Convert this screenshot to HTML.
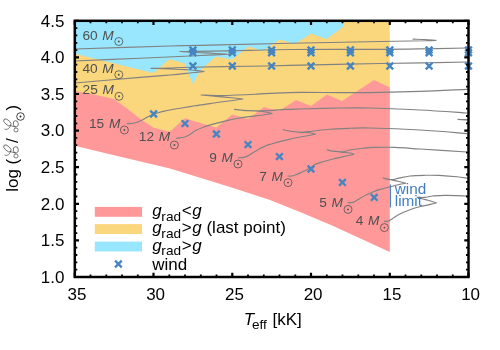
<!DOCTYPE html>
<html><head><meta charset="utf-8"><title>HRD wind limit</title>
<style>
html,body{margin:0;padding:0;background:#fff;}
body{width:500px;height:350px;overflow:hidden;}
svg{display:block;}
text{font-family:"Liberation Sans",sans-serif;}
.t16{font-size:17px;fill:#000;}
.sub{font-size:13.6px;}
.it{font-style:italic;}
.ml{font-size:13.7px;fill:#505050;}
.wl{font-size:15.3px;fill:#3f7fbf;}
</style></head><body>
<svg style="will-change:transform" width="500" height="350" viewBox="0 0 500 350">
<rect x="0" y="0" width="500" height="350" fill="#ffffff"/>
<defs><clipPath id="pc"><rect x="74.8" y="20.8" width="393.7" height="256.2"/></clipPath>
<g id="xm"><path d="M-3.35,-3.35 L3.35,3.35 M-3.35,3.35 L3.35,-3.35" stroke="#4585c2" stroke-width="2.35" fill="none"/></g>
<g id="sun"><circle cx="0" cy="0" r="4" fill="none" stroke="#505050" stroke-width="0.8"/><circle cx="0" cy="0" r="0.95" fill="#505050"/></g>
</defs>
<g clip-path="url(#pc)">
<rect x="74.8" y="20.8" width="268.2" height="75" fill="#99e6ff"/>
<polygon points="74.8,53.7 153.4,73.0 169.5,59.0 184.8,63.5 192.6,83.8 200.8,69.8 215.8,56.6 232.0,59.6 248.6,46.4 262.8,51.0 279.6,39.5 295.0,44.0 311.0,33.4 326.4,39.0 343.0,27.0 343.0,20.8 389.8,20.8 389.8,140.0 74.8,140.0" fill="#fad67d"/>
<polygon points="74.8,91.0 96.0,95.0 114.0,99.0 130.0,110.8 140.8,119.2 153.8,127.7 169.5,131.8 185.0,118.3 200.8,123.3 216.3,127.6 232.3,114.4 248.2,119.0 264.0,107.0 279.0,111.0 296.0,100.0 311.0,106.0 327.0,94.4 342.0,101.0 374.0,80.0 389.8,87.5 389.8,252.0 332.0,225.5 300.0,212.0 270.0,200.0 230.0,187.0 170.0,168.6 130.0,159.0 113.0,155.0 74.8,145.7" fill="#ff9999"/>
</g>
<g fill="none" stroke="#828282" stroke-width="1.15" stroke-linejoin="round" stroke-linecap="round" clip-path="url(#pc)">
<path d="M74.8,49.0 C90.7,48.5 145.8,46.7 170.0,46.0 C194.2,45.3 200.0,45.4 220.0,44.9 C240.0,44.4 263.3,43.9 290.0,43.3 C316.7,42.7 357.5,41.9 380.0,41.5 C402.5,41.1 415.7,40.9 425.0,40.7 C434.3,40.5 434.2,40.4 436.0,40.3 M436.0,40.3 C434.2,40.2 428.8,39.8 425.0,39.6 C421.2,39.4 415.0,39.2 413.0,39.1"/>
<path d="M74.8,61.0 C85.7,60.5 120.8,59.0 140.0,58.2 C159.2,57.4 177.5,56.5 190.0,56.0 C202.5,55.5 208.6,55.2 215.0,54.9 C221.4,54.6 226.2,54.3 228.4,54.2 M228.4,54.2 C226.2,54.1 219.7,53.8 215.0,53.5 C210.3,53.2 205.8,53.0 200.0,52.7 C194.2,52.4 183.3,51.7 180.0,51.5 M180.0,51.5 C182.8,51.5 185.3,51.6 197.0,51.4 C208.7,51.2 234.5,50.7 250.0,50.4 C265.5,50.1 268.3,49.7 290.0,49.5 C311.7,49.3 356.7,49.4 380.0,49.3 C403.3,49.2 415.5,48.9 430.0,48.7 C444.5,48.5 460.8,48.1 467.0,48.0"/>
<path d="M74.8,83.0 C85.7,82.1 124.1,78.7 140.0,77.4 C155.9,76.1 161.7,75.7 170.0,75.0 C178.3,74.3 184.3,73.6 190.0,73.0 C195.7,72.4 201.7,71.8 204.0,71.5 M204.0,71.5 C202.5,71.3 197.7,70.7 195.0,70.4 C192.3,70.1 192.2,70.0 188.0,69.8 C183.8,69.6 176.2,69.2 170.0,69.0 C163.8,68.8 154.2,68.4 151.0,68.3 M151.0,68.3 C154.2,68.2 163.5,68.2 170.0,68.0 C176.5,67.8 176.7,67.5 190.0,67.2 C203.3,66.9 233.3,66.6 250.0,66.3 C266.7,66.0 268.3,65.9 290.0,65.4 C311.7,64.9 356.7,64.0 380.0,63.5 C403.3,63.0 415.5,63.0 430.0,62.7 C444.5,62.5 460.8,62.1 467.0,62.0"/>
<path d="M127.0,123.6 C127.7,123.6 129.7,123.7 131.0,123.5 C132.3,123.3 133.6,123.1 135.0,122.7 C136.4,122.3 137.4,122.2 139.6,121.2 C141.8,120.2 145.7,118.0 148.0,116.8 C150.3,115.6 151.6,115.0 153.6,114.2 C155.6,113.4 157.9,112.8 160.0,112.2 C162.1,111.6 162.7,111.5 166.0,110.8 C169.3,110.1 175.2,109.0 180.0,108.2 C184.8,107.4 190.0,106.6 195.0,105.8 C200.0,105.0 206.0,104.2 210.0,103.6 C214.0,103.0 214.9,102.8 219.0,102.2 C223.1,101.7 230.6,100.8 234.6,100.3 C238.6,99.8 241.4,99.2 242.8,99.0 M242.8,99.0 C241.4,98.8 238.6,98.4 234.6,98.0 C230.6,97.6 224.6,97.1 219.0,96.6 C213.4,96.1 204.2,95.3 201.2,95.0 M201.2,95.0 C204.2,95.1 213.0,95.6 219.0,95.6 C225.0,95.6 231.0,95.2 237.0,95.0 C243.0,94.8 249.5,94.5 255.0,94.2 C260.5,93.9 262.5,93.7 270.0,93.4 C277.5,93.1 288.3,92.5 300.0,92.4 C311.7,92.3 328.3,92.6 340.0,92.6 C351.7,92.6 356.7,92.8 370.0,92.6 C383.3,92.4 403.8,91.9 420.0,91.4 C436.2,90.9 459.2,89.7 467.0,89.4"/>
<path d="M176.2,138.2 C176.8,138.1 178.7,138.1 180.0,137.9 C181.3,137.7 182.8,137.5 184.0,137.2 C185.2,136.9 186.0,136.6 187.2,136.0 C188.4,135.4 189.6,134.7 191.0,133.8 C192.4,132.9 193.4,131.7 195.6,130.6 C197.8,129.5 200.6,128.2 204.0,127.0 C207.4,125.8 212.0,124.5 216.0,123.4 C220.0,122.3 224.0,121.3 228.0,120.4 C232.0,119.5 236.5,118.6 240.0,118.0 C243.5,117.4 244.9,117.1 249.0,116.6 C253.1,116.1 260.8,115.3 264.6,114.8 C268.4,114.3 270.8,113.8 272.0,113.6 M272.0,113.6 C271.2,113.4 269.8,112.6 267.0,112.2 C264.2,111.8 259.0,111.3 255.0,111.0 C251.0,110.7 246.4,110.8 243.0,110.5 C239.6,110.2 235.8,109.6 234.4,109.4 M234.4,109.4 C235.8,109.6 239.6,110.1 243.0,110.3 C246.4,110.5 252.0,110.7 255.0,110.8 C258.0,110.9 258.0,110.9 261.0,110.8 C264.0,110.7 269.0,110.6 273.0,110.4 C277.0,110.2 280.5,109.6 285.0,109.4 C289.5,109.2 290.8,109.2 300.0,109.0 C309.2,108.8 328.3,108.2 340.0,108.0 C351.7,107.8 356.7,107.7 370.0,108.0 C383.3,108.3 403.8,109.2 420.0,110.0 C436.2,110.8 459.2,112.5 467.0,113.0"/>
<path d="M470.0,120.3 L458.0,119.4 M458.0,119.4 L470.0,119.7"/>
<path d="M238.3,157.7 C238.9,157.7 240.8,157.7 242.0,157.6 C243.2,157.5 244.3,157.3 245.5,156.9 C246.7,156.5 247.7,156.1 249.0,155.3 C250.3,154.5 251.8,153.3 253.6,152.2 C255.4,151.1 258.2,149.6 260.0,148.6 C261.8,147.6 262.7,147.1 264.4,146.4 C266.1,145.7 266.1,145.5 270.0,144.4 C273.9,143.3 282.0,141.0 288.0,139.6 C294.0,138.2 301.4,136.9 306.0,136.0 C310.6,135.1 313.8,134.5 315.4,134.2 M315.4,134.2 C314.4,133.9 312.2,133.0 309.6,132.7 C307.0,132.4 303.0,132.6 300.0,132.4 C297.0,132.2 294.4,131.8 291.6,131.4 C288.8,131.0 284.6,130.1 283.2,129.8 M283.2,129.8 C284.6,130.1 288.6,130.9 291.6,131.3 C294.6,131.7 297.8,132.2 301.2,132.2 C304.6,132.2 307.2,131.7 312.0,131.2 C316.8,130.7 323.7,129.7 330.0,129.2 C336.3,128.7 343.3,128.5 350.0,128.3 C356.7,128.1 358.3,127.7 370.0,128.0 C381.7,128.3 403.8,129.1 420.0,130.0 C436.2,130.9 459.2,133.0 467.0,133.6"/>
<path d="M288.0,176.0 C288.7,176.0 290.7,176.2 292.0,176.0 C293.3,175.8 294.7,175.3 296.0,174.8 C297.3,174.3 297.5,174.2 300.0,173.0 C302.5,171.8 308.5,168.8 311.0,167.4 C313.5,166.0 313.5,165.4 315.0,164.6 C316.5,163.8 317.0,163.5 320.0,162.6 C323.0,161.7 328.4,160.1 333.0,159.0 C337.6,157.9 343.9,156.6 347.4,155.8 C350.9,155.0 352.9,154.5 354.0,154.2 M354.0,154.2 C353.3,154.0 351.9,153.3 349.8,153.0 C347.7,152.7 344.2,152.5 341.4,152.2 C338.6,151.9 335.4,151.6 333.0,151.2 C330.6,150.8 328.0,150.0 327.0,149.8 M327.0,149.8 C328.0,150.0 330.4,150.8 333.0,151.1 C335.6,151.4 339.6,151.9 342.6,151.7 C345.6,151.5 347.6,150.4 351.0,149.8 C354.4,149.2 359.0,148.6 363.0,148.2 C367.0,147.8 369.7,147.5 375.0,147.4 C380.3,147.3 387.5,147.1 395.0,147.4 C402.5,147.7 408.0,148.2 420.0,149.0 C432.0,149.8 459.2,151.5 467.0,152.0"/>
<path d="M348.0,202.6 C348.7,202.6 350.8,202.8 352.0,202.6 C353.2,202.4 354.0,201.9 355.0,201.4 C356.0,200.9 356.2,200.7 358.0,199.6 C359.8,198.5 363.3,196.3 366.0,195.0 C368.7,193.7 371.7,192.4 374.0,191.5 C376.3,190.6 377.4,190.2 380.0,189.4 C382.6,188.7 386.6,187.8 389.6,187.0 C392.6,186.2 395.3,185.4 398.0,184.8 C400.7,184.2 404.5,183.5 405.8,183.2 M405.8,183.2 C404.5,182.9 400.6,181.8 398.0,181.2 C395.4,180.6 392.7,180.3 390.2,179.8 C387.7,179.3 384.2,178.3 383.0,178.0 M383.0,178.0 C384.2,178.3 388.4,179.4 390.2,179.6 C392.0,179.8 392.7,179.6 394.0,179.4 C395.3,179.2 395.3,179.0 398.0,178.4 C400.7,177.8 405.5,176.5 410.0,176.0 C414.5,175.5 420.2,175.4 425.0,175.3 C429.8,175.2 433.7,175.2 439.0,175.4 C444.3,175.7 452.2,176.3 457.0,176.8 C461.8,177.3 465.8,178.0 467.5,178.2"/>
<path d="M384.4,221.4 C385.0,221.4 386.7,221.6 388.0,221.2 C389.3,220.8 390.7,219.8 392.0,219.0 C393.3,218.2 393.8,217.5 395.6,216.4 C397.4,215.3 400.6,213.7 403.0,212.6 C405.4,211.5 407.2,210.8 410.0,209.8 C412.8,208.8 416.2,207.7 419.6,206.8 C423.0,205.9 427.6,205.1 430.4,204.4 C433.2,203.7 435.4,203.1 436.4,202.8 M436.4,202.8 C435.0,202.4 430.4,200.9 428.0,200.2 C425.6,199.5 423.8,199.3 422.0,198.8 C420.2,198.3 418.0,197.6 417.2,197.4 M417.2,197.4 C418.4,197.4 422.0,197.6 424.6,197.4 C427.2,197.2 429.6,196.3 433.0,196.0 C436.4,195.7 439.2,195.4 445.0,195.4 C450.8,195.4 463.8,195.9 467.5,196.0"/>
</g>
<g>
<use href="#xm" x="192.9" y="49.9"/>
<use href="#xm" x="192.9" y="52.8"/>
<use href="#xm" x="192.9" y="66.0"/>
<use href="#xm" x="232.3" y="49.9"/>
<use href="#xm" x="232.3" y="52.8"/>
<use href="#xm" x="232.3" y="66.0"/>
<use href="#xm" x="271.6" y="49.9"/>
<use href="#xm" x="271.6" y="52.8"/>
<use href="#xm" x="271.6" y="66.0"/>
<use href="#xm" x="311.0" y="49.9"/>
<use href="#xm" x="311.0" y="52.8"/>
<use href="#xm" x="311.0" y="66.0"/>
<use href="#xm" x="350.4" y="49.9"/>
<use href="#xm" x="350.4" y="52.8"/>
<use href="#xm" x="350.4" y="66.0"/>
<use href="#xm" x="389.8" y="49.9"/>
<use href="#xm" x="389.8" y="52.8"/>
<use href="#xm" x="389.8" y="66.0"/>
<use href="#xm" x="429.1" y="49.9"/>
<use href="#xm" x="429.1" y="52.8"/>
<use href="#xm" x="429.1" y="66.0"/>
<use href="#xm" x="468.5" y="49.9"/>
<use href="#xm" x="468.5" y="52.8"/>
<use href="#xm" x="468.5" y="66.0"/>
<use href="#xm" x="153.6" y="114"/>
<use href="#xm" x="185" y="123.6"/>
<use href="#xm" x="216.4" y="134"/>
<use href="#xm" x="248" y="144.6"/>
<use href="#xm" x="279.4" y="156.6"/>
<use href="#xm" x="311" y="169"/>
<use href="#xm" x="342.4" y="182.4"/>
<use href="#xm" x="374.2" y="197.4"/>
</g>
<text class="ml" x="82.4" y="39.8" xml:space="preserve">60 <tspan class="it" dx="0.9">M</tspan></text>
<text class="ml" x="82.4" y="72.7" xml:space="preserve">40 <tspan class="it" dx="0.9">M</tspan></text>
<text class="ml" x="82.6" y="94.3" xml:space="preserve">25 <tspan class="it" dx="0.9">M</tspan></text>
<text class="ml" x="89.0" y="128.0" xml:space="preserve">15 <tspan class="it" dx="0.9">M</tspan></text>
<text class="ml" x="138.8" y="141.4" xml:space="preserve">12 <tspan class="it" dx="0.9">M</tspan></text>
<text class="ml" x="209.2" y="161.5" xml:space="preserve">9 <tspan class="it" dx="0.9">M</tspan></text>
<text class="ml" x="259.2" y="180.6" xml:space="preserve">7 <tspan class="it" dx="0.9">M</tspan></text>
<text class="ml" x="319.3" y="207.0" xml:space="preserve">5 <tspan class="it" dx="0.9">M</tspan></text>
<text class="ml" x="355.7" y="225.0" xml:space="preserve">4 <tspan class="it" dx="0.9">M</tspan></text>
<use href="#sun" x="118.8" y="41.5"/>
<use href="#sun" x="118.8" y="74.7"/>
<use href="#sun" x="119" y="96.3"/>
<use href="#sun" x="124.4" y="130"/>
<use href="#sun" x="174.4" y="145"/>
<use href="#sun" x="238" y="164"/>
<use href="#sun" x="288" y="182.6"/>
<use href="#sun" x="348" y="209.4"/>
<use href="#sun" x="384.4" y="227.6"/>
<line x1="390.4" y1="184.6" x2="390.4" y2="207.6" stroke="#3f7fbf" stroke-width="1.1"/>
<text class="wl" x="394.8" y="194.4">wind</text>
<text class="wl" x="394.8" y="205.5">limit</text>
<g stroke="#000" fill="none">
<rect x="74.8" y="20.8" width="393.7" height="256.2" stroke-width="2.5"/>
<path d="M74.8,20.8 v4.2 M74.8,277.0 v-4.2 M153.5,20.8 v4.2 M153.5,277.0 v-4.2 M232.3,20.8 v4.2 M232.3,277.0 v-4.2 M311.0,20.8 v4.2 M311.0,277.0 v-4.2 M389.8,20.8 v4.2 M389.8,277.0 v-4.2 M468.5,20.8 v4.2 M468.5,277.0 v-4.2 M74.8,20.8 h4.2 M468.5,20.8 h-4.2 M74.8,57.4 h4.2 M468.5,57.4 h-4.2 M74.8,94.0 h4.2 M468.5,94.0 h-4.2 M74.8,130.6 h4.2 M468.5,130.6 h-4.2 M74.8,167.2 h4.2 M468.5,167.2 h-4.2 M74.8,203.8 h4.2 M468.5,203.8 h-4.2 M74.8,240.4 h4.2 M468.5,240.4 h-4.2 M74.8,277.0 h4.2 M468.5,277.0 h-4.2" stroke-width="2.2"/>
<path d="M90.5,20.8 v2.5 M90.5,277.0 v-2.5 M106.3,20.8 v2.5 M106.3,277.0 v-2.5 M122.0,20.8 v2.5 M122.0,277.0 v-2.5 M137.8,20.8 v2.5 M137.8,277.0 v-2.5 M169.3,20.8 v2.5 M169.3,277.0 v-2.5 M185.0,20.8 v2.5 M185.0,277.0 v-2.5 M200.8,20.8 v2.5 M200.8,277.0 v-2.5 M216.5,20.8 v2.5 M216.5,277.0 v-2.5 M248.0,20.8 v2.5 M248.0,277.0 v-2.5 M263.8,20.8 v2.5 M263.8,277.0 v-2.5 M279.5,20.8 v2.5 M279.5,277.0 v-2.5 M295.3,20.8 v2.5 M295.3,277.0 v-2.5 M326.8,20.8 v2.5 M326.8,277.0 v-2.5 M342.5,20.8 v2.5 M342.5,277.0 v-2.5 M358.3,20.8 v2.5 M358.3,277.0 v-2.5 M374.0,20.8 v2.5 M374.0,277.0 v-2.5 M405.5,20.8 v2.5 M405.5,277.0 v-2.5 M421.3,20.8 v2.5 M421.3,277.0 v-2.5 M437.0,20.8 v2.5 M437.0,277.0 v-2.5 M452.8,20.8 v2.5 M452.8,277.0 v-2.5 M74.8,28.1 h2.5 M468.5,28.1 h-2.5 M74.8,35.4 h2.5 M468.5,35.4 h-2.5 M74.8,42.8 h2.5 M468.5,42.8 h-2.5 M74.8,50.1 h2.5 M468.5,50.1 h-2.5 M74.8,64.7 h2.5 M468.5,64.7 h-2.5 M74.8,72.0 h2.5 M468.5,72.0 h-2.5 M74.8,79.4 h2.5 M468.5,79.4 h-2.5 M74.8,86.7 h2.5 M468.5,86.7 h-2.5 M74.8,101.3 h2.5 M468.5,101.3 h-2.5 M74.8,108.6 h2.5 M468.5,108.6 h-2.5 M74.8,116.0 h2.5 M468.5,116.0 h-2.5 M74.8,123.3 h2.5 M468.5,123.3 h-2.5 M74.8,137.9 h2.5 M468.5,137.9 h-2.5 M74.8,145.2 h2.5 M468.5,145.2 h-2.5 M74.8,152.6 h2.5 M468.5,152.6 h-2.5 M74.8,159.9 h2.5 M468.5,159.9 h-2.5 M74.8,174.5 h2.5 M468.5,174.5 h-2.5 M74.8,181.8 h2.5 M468.5,181.8 h-2.5 M74.8,189.2 h2.5 M468.5,189.2 h-2.5 M74.8,196.5 h2.5 M468.5,196.5 h-2.5 M74.8,211.1 h2.5 M468.5,211.1 h-2.5 M74.8,218.4 h2.5 M468.5,218.4 h-2.5 M74.8,225.8 h2.5 M468.5,225.8 h-2.5 M74.8,233.1 h2.5 M468.5,233.1 h-2.5 M74.8,247.7 h2.5 M468.5,247.7 h-2.5 M74.8,255.0 h2.5 M468.5,255.0 h-2.5 M74.8,262.4 h2.5 M468.5,262.4 h-2.5 M74.8,269.7 h2.5 M468.5,269.7 h-2.5" stroke-width="1.8"/>
</g>
<text class="t16" x="64.4" y="26.5" text-anchor="end">4.5</text>
<text class="t16" x="64.4" y="63.1" text-anchor="end">4.0</text>
<text class="t16" x="64.4" y="99.7" text-anchor="end">3.5</text>
<text class="t16" x="64.4" y="136.3" text-anchor="end">3.0</text>
<text class="t16" x="64.4" y="172.9" text-anchor="end">2.5</text>
<text class="t16" x="64.4" y="209.5" text-anchor="end">2.0</text>
<text class="t16" x="64.4" y="246.1" text-anchor="end">1.5</text>
<text class="t16" x="64.4" y="282.7" text-anchor="end">1.0</text>
<text class="t16" x="76.9" y="299.9" text-anchor="middle">35</text>
<text class="t16" x="155.6" y="299.9" text-anchor="middle">30</text>
<text class="t16" x="234.4" y="299.9" text-anchor="middle">25</text>
<text class="t16" x="313.1" y="299.9" text-anchor="middle">20</text>
<text class="t16" x="391.9" y="299.9" text-anchor="middle">15</text>
<text class="t16" x="470.6" y="299.9" text-anchor="middle">10</text>
<text class="t16" x="243.7" y="324.6" xml:space="preserve"><tspan class="it">T</tspan><tspan class="sub" dy="4.5" dx="-2.2">eff</tspan><tspan dy="-4.5" dx="1.0"> [kK]</tspan></text>
<g transform="translate(18,191.8) rotate(-90)">
<text class="t16" x="0" y="0" xml:space="preserve">log (</text>
<text class="t16" x="48.7" y="0">/</text>
<text class="t16" x="81.3" y="0">)</text>
</g>
<g transform="translate(20.5,116.5)"><circle r="3.8" fill="none" stroke="#222" stroke-width="0.85"/><circle r="0.95" fill="#222"/></g>
<g id="scL2" fill="none" stroke="#333" stroke-width="0.65">
<ellipse cx="7.4" cy="122.4" rx="4.5" ry="2.3" transform="rotate(42 7.4 122.4)"/>
<path d="M4.5,129 C6.5,130 9.3,129.2 10.6,125.6 M10.4,125.4 C12,126.4 14,126.2 15.6,127.4"/>
<ellipse cx="15.8" cy="123.8" rx="2.5" ry="3.1" transform="rotate(-10 15.8 123.8)"/>
<ellipse cx="16" cy="130" rx="2.1" ry="2"/>
</g>
<use href="#scL2" x="0" y="26"/>
<rect x="94.8" y="206.9" width="47.2" height="9.9" fill="#ff9999"/>
<rect x="94.8" y="224.1" width="47.2" height="9.9" fill="#fad67d"/>
<rect x="94.8" y="241.6" width="47.2" height="9.9" fill="#99e6ff"/>
<use href="#xm" x="118.4" y="264"/>
<text class="t16" x="152.3" y="216.0" xml:space="preserve"><tspan class="it">g</tspan><tspan class="sub" dy="4.6" dx="-0.4">rad</tspan><tspan dy="-4.6" dx="0.7">&lt;</tspan><tspan class="it" dx="0.6">g</tspan></text>
<text class="t16" x="152.3" y="233.3" xml:space="preserve"><tspan class="it">g</tspan><tspan class="sub" dy="4.6" dx="-0.4">rad</tspan><tspan dy="-4.6" dx="0.7">&gt;</tspan><tspan class="it" dx="0.6">g</tspan> (last point)</text>
<text class="t16" x="152.3" y="250.6" xml:space="preserve"><tspan class="it">g</tspan><tspan class="sub" dy="4.6" dx="-0.4">rad</tspan><tspan dy="-4.6" dx="0.7">&gt;</tspan><tspan class="it" dx="0.6">g</tspan></text>
<text class="t16" x="152.2" y="269.6">wind</text>
</svg>
</body></html>
